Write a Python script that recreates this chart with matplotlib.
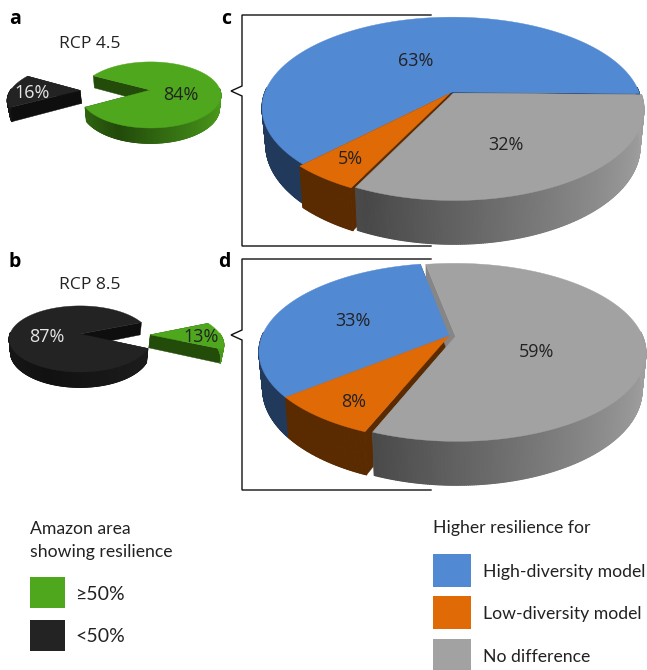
import numpy as np
import matplotlib
matplotlib.use("Agg")
import matplotlib.pyplot as plt
from matplotlib.collections import PolyCollection
from matplotlib.colors import to_rgb
from matplotlib.patches import Polygon, Rectangle

# pie values (percent), counter-clockwise from the start angle
values_a = [84, 16]
values_b = [87, 13]
values_c = [63, 5, 32]
values_d = [33, 8, 59]

labels_a = ["84%", "16%"]
labels_b = ["87%", "13%"]
labels_c = ["63%", "5%", "32%"]
labels_d = ["33%", "8%", "59%"]

legend_left_labels = ["\u226550%", "<50%"]
legend_right_labels = ["High-diversity model", "Low-diversity model", "No difference"]

# colours: top, radial wall, side dark, side light
GREEN = ("#4ea71c", "#234c0a", "#224a0a", "#4a9a1c")
BLACK = ("#232323", "#0e0e0e", "#111111", "#1d1d1d")
BLUE = ("#5289d3", "#213a5c", "#213a5c", "#213a5c")
ORANGE = ("#e06a06", "#5a2a00", "#5a2a00", "#5a2a00")
GREY = ("#a2a2a2", "#868686", "#484848", "#a0a0a0")

TEXT = "#222222"
plt.rcParams["font.family"] = ["Open Sans", "DejaVu Sans"]

fig = plt.figure(figsize=(6.47, 6.70), dpi=100)
ax = fig.add_axes([0, 0, 1, 1])
ax.set_xlim(0, 647)
ax.set_ylim(670, 0)
ax.axis("off")


def lerp(c1, c2, t):
    return tuple(a + (b - a) * t for a, b in zip(to_rgb(c1), to_rgb(c2)))


def pie3d(values, colors, explode, start, cx, cy, W, B, D, k):
    def project(u, v, h=0.0):
        den = 1 - k * v
        return (cx + W * u / den * (1 - 0.02 * h), cy + (B * v + D * h) / den)

    total = sum(values)
    slices = []
    a0 = start
    for val, col, ex in zip(values, colors, explode):
        a1 = a0 + 360 * val / total
        mid = np.radians((a0 + a1) / 2)
        slices.append((a0, a1, col, ex * np.cos(mid), -ex * np.sin(mid)))
        a0 = a1
    # far slices first
    slices.sort(key=lambda s: s[4])

    # radial walls go under the outer walls
    for a0, a1, col, du, dv in slices:
        for a in (a0, a1):
            u = np.cos(np.radians(a)) + du
            v = -np.sin(np.radians(a)) + dv
            wall = [project(du, dv), project(u, v), project(u, v, 1), project(du, dv, 1)]
            ax.add_patch(Polygon(wall, fc=col[1], ec=col[1], lw=0.3))

    for a0, a1, col, du, dv in slices:
        th = np.radians(np.linspace(a0, a1, int(a1 - a0) * 2 + 2))
        us = np.cos(th) + du
        vs = -np.sin(th) + dv
        # outer wall, shaded by position; the far half is hidden anyway
        quads = []
        shades = []
        for i in range(len(th) - 1):
            if -np.sin(th[i]) < -0.05:
                continue
            quads.append([project(us[i], vs[i]), project(us[i + 1], vs[i + 1]),
                          project(us[i + 1], vs[i + 1], 1), project(us[i], vs[i], 1)])
            t = min(abs(np.cos(th[i]) + 0.4) / 1.4, 1)
            shades.append(lerp(col[2], col[3], t))
        if quads:
            ax.add_collection(PolyCollection(quads, facecolors=shades, edgecolors=shades, linewidths=0.8))

    for a0, a1, col, du, dv in slices:
        th = np.radians(np.linspace(a0, a1, int(a1 - a0) * 2 + 2))
        top = [project(du, dv)] + [project(np.cos(t) + du, -np.sin(t) + dv) for t in th]
        ax.add_patch(Polygon(top, fc=col[0], ec=col[0], lw=0.3))


def bracket(top, bottom, tip):
    xs = [431, 242, 242, 231, 242, 242, 431]
    ys = [top, top, tip - 5, tip, tip + 5, bottom, bottom]
    ax.plot(xs, ys, color="#111111", lw=1.0, solid_joinstyle="miter")


pie3d(values_a, [GREEN, BLACK], [0, 1.01], 209.5, 150.5, 90, 69.5, 32.3, 13, 0.15)
pie3d(values_b, [BLACK, GREEN], [0, 1.0], 22, 80, 334, 70, 32.3, 13, 0.15)
pie3d(values_c, [BLUE, ORANGE, GREY], [0, 0.02, 0.015], -1, 452, 92, 187, 88, 36, 0.176)
pie3d(values_d, [BLUE, ORANGE, GREY], [0, 0.0, 0.035], 100.4, 449, 336, 187, 86, 36, 0.18)

bracket(15, 246, 91)
bracket(259, 490, 335)

pct = dict(fontsize=13, ha="center", va="center")
for lab, x, y, c in zip(labels_a, [181, 32], [95, 93], [TEXT, "#e6e6e6"]):
    ax.text(x, y, lab, color=c, **pct)
for lab, x, y, c in zip(labels_b, [47, 201], [337, 337], ["#e6e6e6", TEXT]):
    ax.text(x, y, lab, color=c, **pct)
for lab, x, y in zip(labels_c, [416, 350, 506], [61, 159, 145]):
    ax.text(x, y, lab, color=TEXT, **pct)
for lab, x, y in zip(labels_d, [353, 354, 537], [321, 402, 352]):
    ax.text(x, y, lab, color=TEXT, **pct)

ax.text(90, 44, "RCP 4.5", fontsize=12.6, color=TEXT, ha="center", va="center")
ax.text(90, 285, "RCP 8.5", fontsize=12.6, color=TEXT, ha="center", va="center")

for lab, x, y in zip("abcd", [15, 15, 226, 224], [19, 262, 19, 262]):
    ax.text(x, y, lab, fontsize=14, fontweight="bold", color="black", ha="center", va="center")

# legends
leg = dict(family=["Lato", "DejaVu Sans"], fontsize=12.7, color=TEXT, va="center")
ax.text(30, 528.5, "Amazon area", **leg)
ax.text(30, 552.5, "showing resilience", **leg)
ax.text(433, 528.5, "Higher resilience for", **leg)

for lab, col, y0 in zip(legend_left_labels, [GREEN, BLACK], [577, 620]):
    ax.add_patch(Rectangle((30, y0), 35, 31, fc=col[0], ec="none"))
    ax.text(75, y0 + 17, lab, **{**leg, "fontsize": 14})
for lab, col, y0 in zip(legend_right_labels, [BLUE, ORANGE, GREY], [554, 596, 639]):
    ax.add_patch(Rectangle((433, y0), 38, 33, fc=col[0], ec="none"))
    ax.text(483, y0 + 17.5, lab, **leg)

fig.savefig("out.png", dpi=100)
